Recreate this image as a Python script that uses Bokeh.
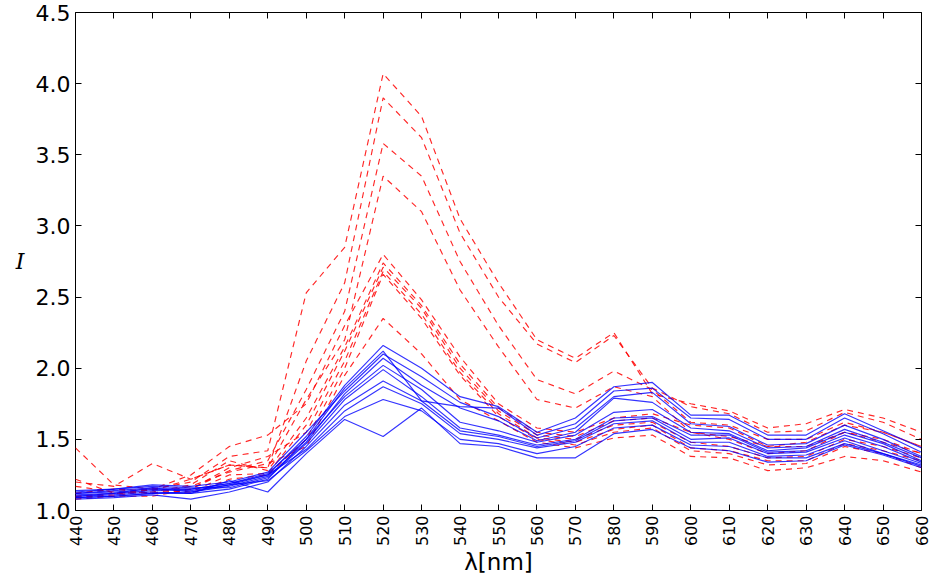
import math

from bokeh.embed import file_html
from bokeh.models import FixedTicker, Label, LinearAxis, NumeralTickFormatter, Range1d
from bokeh.plotting import figure
from bokeh.resources import INLINE

# wavelengths (nm)
wavelengths = [440, 450, 460, 470, 480, 490, 500, 510, 520, 530, 540, 550,
               560, 570, 580, 590, 600, 610, 620, 630, 640, 650, 660]

x_ticks = wavelengths
y_ticks = [1.0, 1.5, 2.0, 2.5, 3.0, 3.5, 4.0, 4.5]

# dashed red spectra
red_1 = [1.10, 1.12, 1.15, 1.20, 1.38, 1.42, 2.53, 2.85, 4.07, 3.77, 3.05, 2.60,
         2.20, 2.07, 2.25, 1.82, 1.75, 1.70, 1.58, 1.61, 1.71, 1.65, 1.55]
red_2 = [1.12, 1.15, 1.14, 1.22, 1.32, 1.30, 2.05, 2.60, 3.90, 3.62, 2.95, 2.50,
         2.17, 2.04, 2.23, 1.86, 1.73, 1.68, 1.55, 1.56, 1.69, 1.62, 1.50]
red_3 = [1.17, 1.13, 1.12, 1.15, 1.28, 1.35, 1.85, 2.40, 3.58, 3.35, 2.75, 2.30,
         1.92, 1.82, 1.98, 1.85, 1.62, 1.60, 1.50, 1.50, 1.62, 1.55, 1.45]
red_4 = [1.20, 1.17, 1.33, 1.22, 1.32, 1.30, 1.78, 2.20, 3.35, 3.10, 2.55, 2.15,
         1.78, 1.72, 1.87, 1.80, 1.55, 1.52, 1.45, 1.45, 1.55, 1.48, 1.40]
red_5 = [1.44, 1.18, 1.15, 1.25, 1.45, 1.53, 1.75, 2.30, 2.80, 2.48, 2.08, 1.75,
         1.58, 1.55, 1.65, 1.68, 1.60, 1.58, 1.45, 1.48, 1.60, 1.55, 1.45]
red_6 = [1.22, 1.12, 1.13, 1.18, 1.35, 1.28, 1.65, 2.15, 2.74, 2.44, 2.03, 1.72,
         1.55, 1.52, 1.63, 1.65, 1.55, 1.50, 1.40, 1.42, 1.55, 1.50, 1.40]
red_7 = [1.10, 1.10, 1.15, 1.13, 1.25, 1.26, 1.60, 2.12, 2.71, 2.42, 2.00, 1.70,
         1.53, 1.50, 1.60, 1.62, 1.48, 1.45, 1.37, 1.38, 1.50, 1.45, 1.37]
red_8 = [1.08, 1.10, 1.10, 1.15, 1.30, 1.38, 1.55, 2.05, 2.68, 2.38, 1.97, 1.68,
         1.51, 1.48, 1.57, 1.60, 1.44, 1.42, 1.35, 1.35, 1.47, 1.42, 1.35]
red_9 = [1.09, 1.11, 1.16, 1.12, 1.22, 1.25, 1.50, 2.00, 2.66, 2.35, 1.95, 1.66,
         1.50, 1.46, 1.55, 1.58, 1.42, 1.40, 1.32, 1.33, 1.45, 1.40, 1.30]
red_10 = [1.12, 1.15, 1.12, 1.17, 1.27, 1.33, 1.45, 1.95, 2.35, 2.10, 1.78, 1.63,
          1.48, 1.44, 1.51, 1.53, 1.38, 1.37, 1.28, 1.30, 1.38, 1.35, 1.27]

# solid blue spectra
blue_1 = [1.12, 1.13, 1.15, 1.14, 1.18, 1.25, 1.52, 1.88, 2.16, 2.00, 1.80, 1.73,
          1.55, 1.65, 1.87, 1.90, 1.67, 1.67, 1.53, 1.53, 1.68, 1.56, 1.44]
blue_2 = [1.10, 1.11, 1.13, 1.12, 1.15, 1.22, 1.50, 1.86, 2.12, 1.77, 1.73, 1.72,
          1.53, 1.61, 1.84, 1.86, 1.65, 1.64, 1.50, 1.50, 1.65, 1.54, 1.41]
blue_3 = [1.13, 1.15, 1.18, 1.17, 1.20, 1.27, 1.55, 1.84, 2.10, 1.94, 1.76, 1.66,
          1.51, 1.58, 1.80, 1.83, 1.61, 1.59, 1.46, 1.47, 1.60, 1.50, 1.38]
blue_4 = [1.09, 1.10, 1.12, 1.13, 1.17, 1.24, 1.48, 1.82, 2.07, 1.88, 1.72, 1.63,
          1.49, 1.55, 1.79, 1.76, 1.58, 1.56, 1.44, 1.45, 1.57, 1.48, 1.37]
blue_5 = [1.11, 1.12, 1.14, 1.15, 1.19, 1.26, 1.50, 1.80, 2.02, 1.85, 1.62, 1.56,
          1.48, 1.53, 1.69, 1.71, 1.55, 1.54, 1.42, 1.44, 1.55, 1.47, 1.35]
blue_6 = [1.14, 1.15, 1.17, 1.16, 1.16, 1.23, 1.47, 1.78, 1.99, 1.80, 1.58, 1.53,
          1.46, 1.50, 1.65, 1.66, 1.53, 1.53, 1.41, 1.42, 1.53, 1.45, 1.34]
blue_7 = [1.08, 1.09, 1.11, 1.08, 1.13, 1.20, 1.45, 1.74, 1.91, 1.77, 1.56, 1.52,
          1.45, 1.49, 1.63, 1.65, 1.50, 1.51, 1.40, 1.41, 1.51, 1.42, 1.33]
blue_8 = [1.10, 1.12, 1.16, 1.15, 1.19, 1.25, 1.43, 1.70, 1.87, 1.75, 1.54, 1.50,
          1.44, 1.48, 1.61, 1.63, 1.48, 1.48, 1.38, 1.39, 1.49, 1.40, 1.32]
blue_9 = [1.12, 1.14, 1.16, 1.13, 1.18, 1.21, 1.42, 1.66, 1.78, 1.70, 1.50, 1.47,
          1.40, 1.45, 1.58, 1.60, 1.46, 1.45, 1.37, 1.37, 1.47, 1.40, 1.31]
blue_10 = [1.09, 1.10, 1.12, 1.12, 1.21, 1.13, 1.40, 1.64, 1.52, 1.72, 1.47, 1.45,
           1.37, 1.37, 1.54, 1.57, 1.44, 1.42, 1.34, 1.35, 1.46, 1.39, 1.30]

red_series = [red_1, red_2, red_3, red_4, red_5, red_6, red_7, red_8, red_9, red_10]
blue_series = [blue_1, blue_2, blue_3, blue_4, blue_5, blue_6, blue_7, blue_8,
               blue_9, blue_10]

p = figure(width=930, height=582, output_backend="svg", toolbar_location=None,
           x_range=Range1d(440, 660), y_range=Range1d(1.0, 4.5),
           min_border_left=75, min_border_right=9, min_border_top=12,
           min_border_bottom=72)

p.background_fill_color = "white"
p.border_fill_color = "white"
p.outline_line_color = "black"
p.outline_line_width = 1
p.outline_line_alpha = 1.0
p.grid.visible = False

for ys in red_series:
    p.line(wavelengths, ys, line_color="#ff0000", line_width=1.15, line_alpha=0.85,
           line_dash="6 5")
for ys in blue_series:
    p.line(wavelengths, ys, line_color="#0000ff", line_width=1.15, line_alpha=0.8)


def style_axis(ax, ticks, show_labels, font_size):
    ax.ticker = FixedTicker(ticks=ticks)
    ax.axis_line_color = None
    ax.major_tick_in = 6
    ax.major_tick_out = 0
    ax.major_tick_line_color = "black"
    ax.minor_tick_line_color = None
    ax.major_label_text_font = "DejaVu Sans"
    ax.major_label_text_color = "black"
    ax.major_label_text_font_size = font_size
    if not show_labels:
        ax.major_label_text_alpha = 0.0
        ax.major_label_text_font_size = "1px"
        ax.major_label_standoff = 0


xaxis = p.xaxis[0]
style_axis(xaxis, x_ticks, True, "16px")
xaxis.major_label_orientation = math.pi / 2
xaxis.major_label_standoff = 5
xaxis.axis_label = "λ[nm]"
xaxis.axis_label_text_font = "DejaVu Sans"
xaxis.axis_label_text_font_style = "normal"
xaxis.axis_label_text_color = "black"
xaxis.axis_label_text_font_size = "23px"
xaxis.axis_label_standoff = 0

yaxis = p.yaxis[0]
style_axis(yaxis, y_ticks, True, "22px")
yaxis.formatter = NumeralTickFormatter(format="0.0")
yaxis.major_label_standoff = 5

# intensity symbol, written upright beside the y axis
if "axis_label_orientation" in yaxis.properties():
    yaxis.axis_label = "I"
    yaxis.axis_label_orientation = "horizontal"
    yaxis.axis_label_text_font = "DejaVu Serif"
    yaxis.axis_label_text_font_style = "italic"
    yaxis.axis_label_text_color = "black"
    yaxis.axis_label_text_font_size = "22px"
    yaxis.axis_label_standoff = 8
else:
    p.add_layout(Label(x=-57, y=248, x_units="screen", y_units="screen", text="I",
                       text_font="DejaVu Serif", text_font_style="italic",
                       text_font_size="22px", text_align="center",
                       text_baseline="middle", text_color="black"))

top_axis = LinearAxis()
style_axis(top_axis, x_ticks, False, "1px")
p.add_layout(top_axis, "above")

right_axis = LinearAxis()
style_axis(right_axis, y_ticks, False, "1px")
p.add_layout(right_axis, "right")

open("out.html", "w").write(file_html(p, INLINE))
